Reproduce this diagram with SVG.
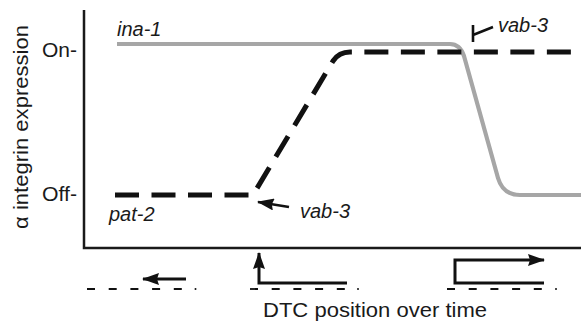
<svg xmlns="http://www.w3.org/2000/svg" width="581" height="324" viewBox="0 0 581 324">
  <style>
    .lbl { font-family: "Liberation Sans", Arial, sans-serif; font-size: 21px; fill: #1a1a1a; }
    .gene { font-family: "Liberation Sans", Arial, sans-serif; font-size: 20px; font-style: italic; fill: #1a1a1a; }
    .axis { fill: none; stroke: #1a1a1a; stroke-width: 2.5; }
    .thick { fill: none; stroke: #111; stroke-width: 3; }
    .base { fill: none; stroke: #111; stroke-width: 1.8; stroke-dasharray: 8 13.7; }
  </style>
  <defs>
    <marker id="head" viewBox="0 0 17 12" refX="16" refY="6" markerWidth="17" markerHeight="12" markerUnits="userSpaceOnUse" orient="auto">
      <path d="M0,0 L17,6 L0,12 L2,6 Z" fill="#111"/>
    </marker>
  </defs>
  <rect width="581" height="324" fill="#ffffff"/>

  <!-- axes -->
  <g id="axes">
    <path class="axis" d="M84,10 V248 H581"/>
    <text class="lbl" x="42" y="57" textLength="35" lengthAdjust="spacingAndGlyphs">On-</text>
    <text class="lbl" x="42" y="201" textLength="35" lengthAdjust="spacingAndGlyphs">Off-</text>
    <text class="lbl" transform="translate(28,229) rotate(-90)" textLength="204" lengthAdjust="spacingAndGlyphs">α integrin expression</text>
    <text class="lbl" x="263" y="317" textLength="224" lengthAdjust="spacingAndGlyphs">DTC position over time</text>
  </g>

  <!-- expression curves -->
  <g id="ina-1">
    <path d="M117,44 H450 Q460,44 464,56 L498,178 Q503,195 520,195 H581" fill="none" stroke="#a6a6a6" stroke-width="4.2"/>
    <text class="gene" x="117" y="36">ina-1</text>
  </g>
  <g id="pat-2">
    <path d="M115,195 H253 L333,61 Q339,52 350,52 H581" fill="none" stroke="#111" stroke-width="5" stroke-dasharray="24 12.5"/>
    <text class="gene" x="109" y="221">pat-2</text>
  </g>

  <!-- regulators -->
  <g id="vab-3-activation">
    <line x1="289" y1="207" x2="258" y2="202" stroke="#111" stroke-width="2.6" marker-end="url(#head)"/>
    <text class="gene" x="300" y="218">vab-3</text>
  </g>
  <g id="vab-3-inhibition">
    <path d="M473,25 V42 M473,35 L493,27" fill="none" stroke="#111" stroke-width="2.6"/>
    <text class="gene" x="498" y="32">vab-3</text>
  </g>

  <!-- migration phases below the time axis -->
  <g id="connectors">
    <g id="phase-1">
      <path class="base" d="M87,289 H195"/>
      <circle cx="195.5" cy="289" r="1" fill="#111"/>
      <line class="thick" x1="186" y1="279" x2="143" y2="279" marker-end="url(#head)"/>
    </g>
    <g id="phase-2">
      <path class="base" d="M250,289 H355"/>
      <circle cx="358" cy="289" r="1" fill="#111"/>
      <path class="thick" d="M347,283 H259 V253" marker-end="url(#head)"/>
    </g>
    <g id="phase-3">
      <path class="base" d="M447,289 H552"/>
      <circle cx="556" cy="289" r="1" fill="#111"/>
      <path class="thick" d="M544,283 H455 V260 H544" marker-end="url(#head)"/>
    </g>
  </g>
</svg>
